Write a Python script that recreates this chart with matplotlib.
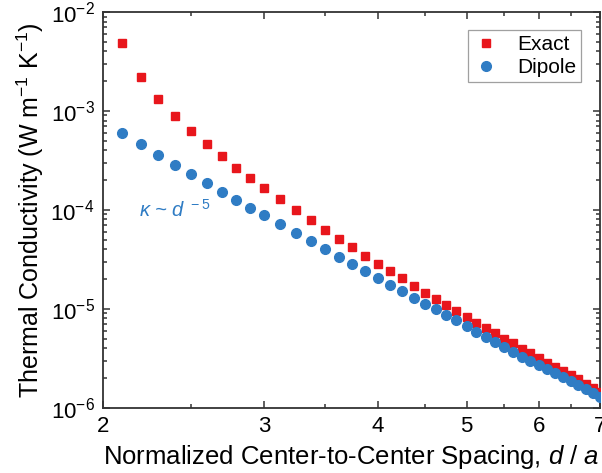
import matplotlib
matplotlib.use('Agg')
import matplotlib.pyplot as plt
from matplotlib.ticker import FixedLocator, NullFormatter, LogLocator

plt.rcParams['font.family'] = ['Liberation Sans', 'DejaVu Sans']
plt.rcParams['mathtext.fontset'] = 'custom'
plt.rcParams['mathtext.rm'] = 'Liberation Sans'
plt.rcParams['mathtext.it'] = 'Liberation Sans:italic'

# ── data ─────────────────────────────────────────────────────────────────────
spacing = [2.1, 2.2, 2.3, 2.4, 2.5, 2.6, 2.7, 2.8, 2.9, 3.0,
           3.125, 3.25, 3.375, 3.5, 3.625, 3.75, 3.875, 4.0,
           4.125, 4.25, 4.375, 4.5, 4.625, 4.75, 4.875, 5.0,
           5.125, 5.25, 5.375, 5.5, 5.625, 5.75, 5.875, 6.0,
           6.125, 6.25, 6.375, 6.5, 6.625, 6.75, 6.875, 7.0]

exact = [4.83e-3, 2.22e-3, 1.33e-3, 8.94e-4, 6.26e-4, 4.63e-4, 3.47e-4, 2.66e-4, 2.08e-4, 1.665e-4,
         1.28e-4, 9.95e-5, 7.89e-5, 6.25e-5, 5.07e-5, 4.18e-5, 3.43e-5, 2.85e-5,
         2.40e-5, 2.03e-5, 1.71e-5, 1.46e-5, 1.25e-5, 1.08e-5, 9.41e-6, 8.34e-6,
         7.22e-6, 6.33e-6, 5.64e-6, 4.97e-6, 4.47e-6, 3.94e-6, 3.54e-6, 3.15e-6,
         2.86e-6, 2.59e-6, 2.34e-6, 2.13e-6, 1.93e-6, 1.75e-6, 1.59e-6, 1.44e-6]

dipole = [5.93e-4, 4.60e-4, 3.58e-4, 2.82e-4, 2.30e-4, 1.85e-4, 1.52e-4, 1.26e-4, 1.04e-4, 8.86e-5,
          7.18e-5, 5.87e-5, 4.87e-5, 4.01e-5, 3.36e-5, 2.81e-5, 2.40e-5, 2.06e-5,
          1.76e-5, 1.51e-5, 1.30e-5, 1.13e-5, 9.86e-6, 8.69e-6, 7.69e-6, 6.70e-6,
          5.85e-6, 5.21e-6, 4.61e-6, 4.07e-6, 3.65e-6, 3.27e-6, 2.96e-6, 2.70e-6,
          2.46e-6, 2.24e-6, 2.04e-6, 1.86e-6, 1.69e-6, 1.54e-6, 1.41e-6, 1.28e-6]

x_major = [2, 3, 4, 5, 6, 7]
x_minor = [2.5, 3.5, 4.5, 5.5, 6.5]

RED = '#e8161c'
BLUE = '#2f7cc4'

fig = plt.figure(figsize=(6.02, 4.73), dpi=100)
ax = fig.add_axes([0.171, 0.138, 0.8257, 0.8366])

ax.plot(spacing, exact, linestyle='none', marker='s', ms=6.2,
        color=RED, mec=RED, label='Exact', zorder=3)
ax.plot(spacing, dipole, linestyle='none', marker='o', ms=7.0,
        color=BLUE, mec=BLUE, label='Dipole', zorder=4)

ax.set_xscale('log')
ax.set_yscale('log')
ax.set_xlim(2, 7)
ax.set_ylim(1e-6, 1e-2)

ax.xaxis.set_major_locator(FixedLocator(x_major))
ax.xaxis.set_minor_locator(FixedLocator(x_minor))
ax.set_xticklabels([str(v) for v in x_major])
ax.xaxis.set_minor_formatter(NullFormatter())
ax.yaxis.set_major_locator(LogLocator(base=10, numticks=10))
ax.yaxis.set_minor_locator(LogLocator(base=10, subs=range(2, 10), numticks=10))
ax.yaxis.set_minor_formatter(NullFormatter())

ax.tick_params(which='both', direction='in', top=True, right=True,
               colors='#333333', labelcolor='black', labelsize=16, width=1.1)
ax.tick_params(which='major', length=5, pad=6)
ax.tick_params(which='minor', length=3)
for s in ax.spines.values():
    s.set_color('#333333')
    s.set_linewidth(1.3)

ax.set_xlabel('Normalized Center-to-Center Spacing, $d$ / $a$', fontsize=18.5, labelpad=4)
ax.set_ylabel('Thermal Conductivity (W m$^{-1}$ K$^{-1}$)', fontsize=18, labelpad=3)

ax.text(2.19, 1.0e-4, r'$\kappa$ ~ $d^{\ -5}$', color=BLUE, fontsize=14.5,
        style='italic', va='center', ha='left')

leg = ax.legend(loc='upper right', bbox_to_anchor=(0.962, 0.955), fontsize=15,
                frameon=True, fancybox=False, edgecolor='#888888',
                handletextpad=0.9, borderpad=0.25, labelspacing=0.2,
                handlelength=1.2, borderaxespad=0)
leg.get_frame().set_linewidth(0.9)

fig.savefig('out.png', dpi=100)
